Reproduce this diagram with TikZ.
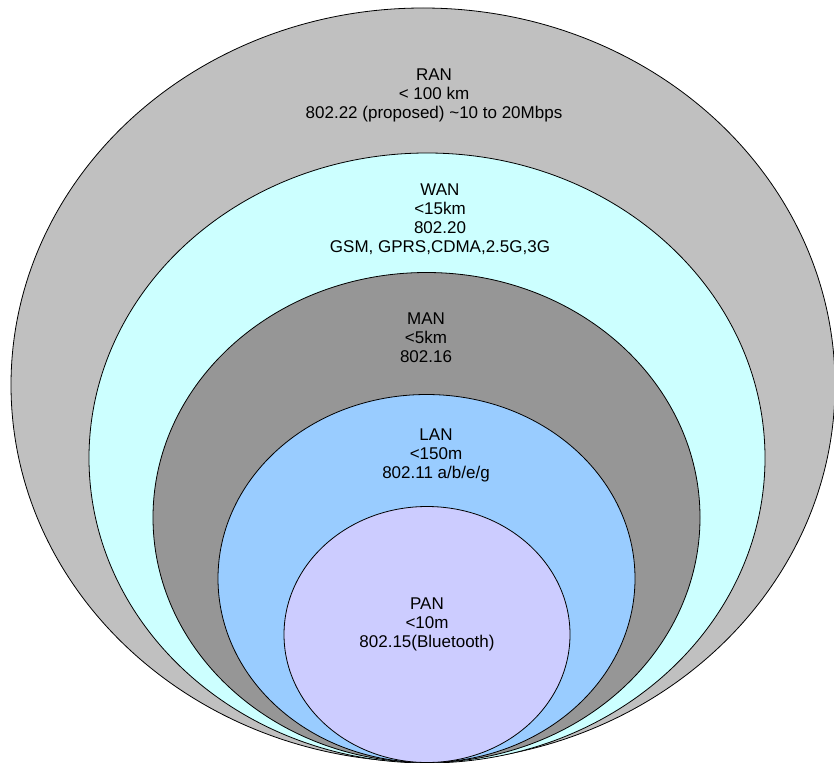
\documentclass[tikz,border=0pt]{standalone}
\usepackage{fontspec}
\setmainfont{Liberation Sans}
\begin{document}
\begin{tikzpicture}[x=1pt,y=-1pt,
  zone/.style={draw=black,line width=0.8pt},
  lbl/.style={align=center,font=\fontsize{17}{19}\selectfont,inner sep=0pt,anchor=north}]
\useasboundingbox (0,0) rectangle (834,762);
\begin{scope}
\clip (0,0) rectangle (834,762);
\fill[white] (0,0) rectangle (834,762);
\draw[zone,fill={rgb,255:red,192;green,192;blue,192}] (423,385) ellipse [x radius=412,y radius=377];
\draw[zone,fill={rgb,255:red,204;green,255;blue,255}] (427,458) ellipse [x radius=338,y radius=305];
\draw[zone,fill={rgb,255:red,150;green,150;blue,150}] (426.5,517.5) ellipse [x radius=273.5,y radius=245];
\draw[zone,fill={rgb,255:red,153;green,204;blue,255}] (426.5,578.5) ellipse [x radius=208.5,y radius=184];
\draw[zone,fill={rgb,255:red,204;green,204;blue,255}] (427,634.5) ellipse [x radius=143,y radius=128];
\end{scope}
\node[lbl] (ran) at (434,69) {RAN\\< 100 km\\802.22 (proposed) \textasciitilde10 to 20Mbps};
\node[lbl] (wan) at (440,184) {WAN\\<15km\\802.20\\GSM, GPRS,CDMA,2.5G,3G};
\node[lbl] (man) at (426,313) {MAN\\<5km\\802.16};
\node[lbl] (lan) at (436,429) {LAN\\<150m\\802.11 a/b/e/g};
\node[lbl] (pan) at (427,598) {PAN\\<10m\\802.15(Bluetooth)};
\end{tikzpicture}
\end{document}
